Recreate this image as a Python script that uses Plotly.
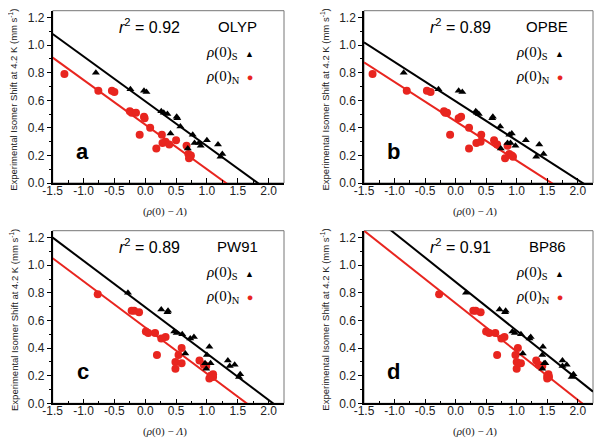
"""Isomer shift vs. density: four functionals, two fits each."""

import numpy as np
import plotly.graph_objects as go

# panel labels and functional names
panels = ["a", "b", "c", "d"]
functionals = ["OLYP", "OPBE", "PW91", "BP86"]
r_squared = ["0.92", "0.89", "0.89", "0.91"]

# experimental isomer shifts (mm/s), shared by all panels
iso_s = [0.80, 0.68, 0.67, 0.66, 0.52, 0.51, 0.50, 0.48, 0.47, 0.41,
         0.36, 0.35, 0.31, 0.29, 0.29, 0.28, 0.27, 0.25, 0.21, 0.19]
iso_n = [0.79, 0.67, 0.67, 0.66, 0.52, 0.51, 0.51, 0.48, 0.47, 0.40, 0.35,
         0.35, 0.31, 0.30, 0.29, 0.28, 0.27, 0.25, 0.21, 0.20, 0.19, 0.18]

# rho(0) - A for the S set (triangles), per functional
rho_s = {
    "OLYP": [-0.80, -0.24, -0.02, 0.02, 0.26, 0.30, 0.36, 0.51, 0.52, 0.57,
             0.41, 0.77, 1.00, 0.80, 0.87, 1.18, 0.90, 0.69, 1.25, 1.22],
    "OPBE": [-0.85, -0.28, 0.05, 0.11, 0.33, 0.35, 0.38, 0.61, 0.60, 0.73,
             0.92, 0.88, 1.15, 0.90, 0.85, 1.37, 0.98, 0.74, 1.44, 1.32],
    "PW91": [-0.28, 0.26, 0.37, 0.36, 0.47, 0.51, 0.60, 0.79, 0.73, 1.04,
             0.65, 1.00, 1.34, 1.06, 0.97, 1.45, 1.37, 0.99, 1.54, 1.52],
    "BP86": [0.17, 0.72, 0.82, 0.81, 0.93, 0.97, 1.07, 1.23, 1.21, 1.43,
             1.10, 1.42, 1.75, 1.47, 1.45, 1.82, 1.75, 1.42, 1.93, 1.90],
}

# rho(0) - A for the N set (circles), per functional
rho_n = {
    "OLYP": [-1.31, -0.76, -0.54, -0.50, -0.25, -0.22, -0.15, -0.02, -0.01,
             0.08, -0.09, 0.27, 0.50, 0.33, 0.28, 0.39, 0.67, 0.18, 0.70,
             0.74, 0.73, 0.71],
    "OPBE": [-1.36, -0.80, -0.47, -0.41, -0.19, -0.17, -0.14, 0.09, 0.05,
             0.22, -0.09, 0.42, 0.63, 0.41, 0.34, 0.68, 0.85, 0.22, 0.88,
             0.92, 0.94, 0.81],
    "PW91": [-0.77, -0.22, -0.18, -0.10, 0.01, 0.05, 0.16, 0.33, 0.26, 0.59,
             0.19, 0.54, 0.88, 0.49, 0.59, 0.95, 0.99, 0.49, 1.10, 1.06,
             1.10, 1.04],
    "BP86": [-0.27, 0.29, 0.33, 0.41, 0.50, 0.55, 0.65, 0.80, 0.75, 1.02,
             0.68, 0.98, 1.32, 1.00, 1.07, 1.36, 1.42, 1.00, 1.52, 1.50,
             1.53, 1.50],
}

# fitted lines (slope, intercept)
fit_s = {"OLYP": (-0.325, 0.593), "OPBE": (-0.285, 0.593),
         "PW91": (-0.336, 0.696), "BP86": (-0.353, 0.879)}
fit_n = {"OLYP": (-0.324, 0.424), "OPBE": (-0.285, 0.448),
         "PW91": (-0.334, 0.549), "BP86": (-0.350, 0.725)}

x_range = [-1.5, 2.25]
y_range = [0.0, 1.25]
x_ticks = [-1.5, -1.0, -0.5, 0.0, 0.5, 1.0, 1.5, 2.0]
x_tick_labels = ["-1.5", "-1.0", "-0.5", "0.0", "0.5", "1.0", "1.5", "2.0"]
y_ticks = [0.0, 0.2, 0.4, 0.6, 0.8, 1.0, 1.2]
y_tick_labels = ["0.0", "0.2", "0.4", "0.6", "0.8", "1.0", "1.2"]

RED = "#e8251f"
FONT = "Liberation Sans, Arial, sans-serif"
SERIF = "Liberation Serif, DejaVu Serif, serif"

# the page body keeps its default 8px margin, so the figure is drawn 8px
# smaller and the panel boxes are measured from that offset
W, H, PAGE_MARGIN = 602, 441, 8
FIG_W, FIG_H = W - PAGE_MARGIN, H - PAGE_MARGIN
# panel boxes in window pixels: (left, right), (top, bottom)
x_px = [(52.7, 284.0), (364.0, 593.0), (52.7, 284.0), (364.0, 593.0)]
y_px = [(10.7, 183.0), (10.7, 183.0), (230.7, 403.3), (230.7, 403.3)]
x_domains = [[(l - PAGE_MARGIN) / FIG_W, (r - PAGE_MARGIN) / FIG_W] for l, r in x_px]
y_domains = [[1 - (b - PAGE_MARGIN) / FIG_H, 1 - (t - PAGE_MARGIN) / FIG_H] for t, b in y_px]

fig = go.Figure()
annotations = []
shapes = []


def note(xd, yd, x, y, text, font, **kw):
    """Annotation placed in axis-domain units, centred unless told otherwise."""
    base = dict(xref=xd, yref=yd, x=x, y=y, text=text, showarrow=False,
                xanchor="center", yanchor="middle", font=font)
    base.update(kw)
    return base


for i, (letter, name) in enumerate(zip(panels, functionals)):
    n = i + 1
    xa = "x" if n == 1 else f"x{n}"
    ya = "y" if n == 1 else f"y{n}"
    xname = "xaxis" if n == 1 else f"xaxis{n}"
    yname = "yaxis" if n == 1 else f"yaxis{n}"

    line_x = np.array(x_range)
    ms, bs = fit_s[name]
    mn, bn = fit_n[name]

    fig.add_trace(go.Scatter(
        x=line_x, y=ms * line_x + bs, mode="lines",
        line={"color": "black", "width": 2}, xaxis=xa, yaxis=ya,
        showlegend=False, hoverinfo="skip",
    ))
    fig.add_trace(go.Scatter(
        x=line_x, y=mn * line_x + bn, mode="lines",
        line={"color": RED, "width": 2}, xaxis=xa, yaxis=ya,
        showlegend=False, hoverinfo="skip",
    ))
    fig.add_trace(go.Scatter(
        x=rho_n[name], y=iso_n, mode="markers",
        marker={"symbol": "circle", "size": 8, "color": RED},
        xaxis=xa, yaxis=ya, showlegend=False, cliponaxis=False,
    ))
    fig.add_trace(go.Scatter(
        x=rho_s[name], y=iso_s, mode="markers",
        marker={"symbol": "triangle-up", "size": 7, "color": "black"},
        xaxis=xa, yaxis=ya, showlegend=False, cliponaxis=False,
    ))

    fig.update_layout({
        xname: dict(
            domain=x_domains[i], range=x_range, anchor=ya, automargin=False,
            tickvals=x_ticks, ticktext=x_tick_labels,
            ticks="inside", ticklen=5, tickwidth=1, tickcolor="black",
            ticklabelstandoff=-4,
            minor=dict(dtick=0.25, tick0=0, ticks="inside", ticklen=3,
                       tickcolor="black"),
            showline=True, linecolor="black", linewidth=1.5,
            showgrid=False, zeroline=False,
            tickfont=dict(family=FONT, size=12, color="#222"),
        ),
        yname: dict(
            domain=y_domains[i], range=y_range, anchor=xa, automargin=False,
            tickvals=y_ticks, ticktext=y_tick_labels,
            ticks="outside", ticklen=4, tickwidth=1, tickcolor="black",
            minor=dict(dtick=0.1, tick0=0, ticks="outside", ticklen=2,
                       tickcolor="black"),
            showline=True, linecolor="black", linewidth=1.5,
            showgrid=False, zeroline=False,
            tickfont=dict(family=FONT, size=12, color="#222"),
        ),
    })

    xd = f"{xa} domain"
    yd = f"{ya} domain"

    # thin grey frame on top/right
    shapes.append(dict(type="rect", xref=xd, yref=yd, x0=0, x1=1, y0=0, y1=1,
                       line=dict(color="#777", width=1), layer="below"))

    annotations += [
        note(xd, yd, -0.17, 0.485,
             "Experimental Isomer Shift at 4.2 K (mm s<sup>-1</sup>)",
             dict(family=FONT, size=9.5, color="#222"), textangle=-90),
        note(xd, yd, 0.486, -0.165, "(<i>ρ</i>(0) − <i>Λ</i>)",
             dict(family=SERIF, size=11, color="#222")),
        note(xd, yd, 0.42, 0.91, f"<i>r</i><sup>2</sup> = {r_squared[i]}",
             dict(family=FONT, size=16, color="black")),
        note(xd, yd, 0.8, 0.91, name,
             dict(family=FONT, size=15, color="black")),
        note(xd, yd, 0.655, 0.755,
             "<i>ρ</i>(0)<sub>S</sub>  <span style='font-size:9px'>▲</span>",
             dict(family=SERIF, size=15, color="black"), xanchor="left"),
        note(xd, yd, 0.655, 0.615,
             f"<i>ρ</i>(0)<sub>N</sub>  <span style='font-size:11px;color:{RED}'>●</span>",
             dict(family=SERIF, size=15, color="black"), xanchor="left"),
        note(xd, yd, 0.13, 0.185, f"<b>{letter}</b>",
             dict(family=FONT, size=22, color="black")),
    ]

fig.update_layout(
    width=FIG_W, height=FIG_H,
    margin=dict(l=0, r=0, t=0, b=0),
    paper_bgcolor="white", plot_bgcolor="white",
    showlegend=False,
    annotations=annotations,
    shapes=shapes,
)

fig.write_html("out.html")
